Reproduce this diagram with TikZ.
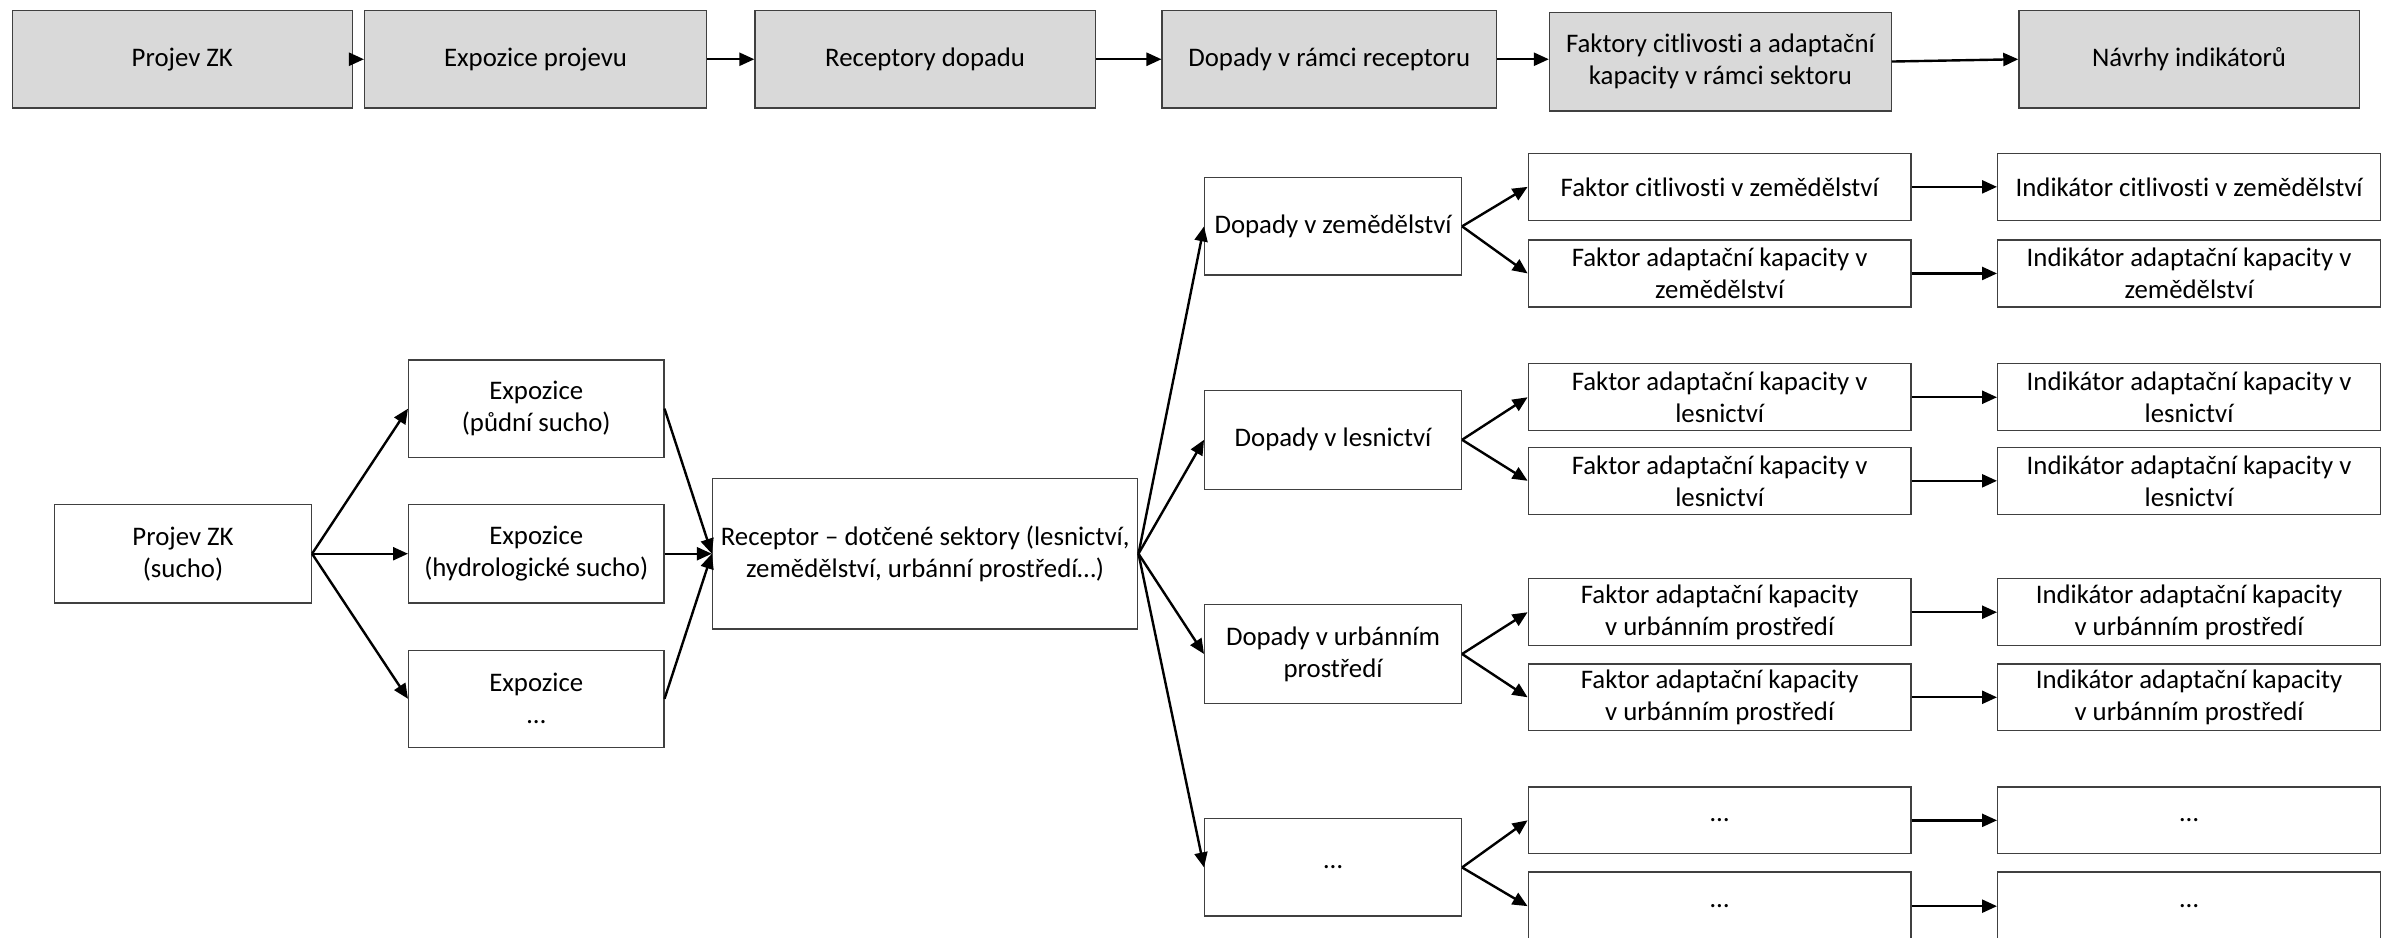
\documentclass[tikz,border=0pt]{standalone}
\usepackage{fontspec}
\setmainfont{Carlito}[Ligatures=NoCommon]
\usetikzlibrary{arrows.meta}
\begin{document}
\begin{tikzpicture}[x=1.5191pt,y=-1.5191pt,
  base/.style={draw=black!75, line width=1.3pt, inner sep=0pt, align=center,
    font=\fontsize{26.8}{32}\selectfont, text=black},
  wd/.style={minimum width=#1*1.5191pt},
  ht/.style={minimum height=#1*1.5191pt},
  topbox/.style={base, fill=gray!30, ht=64},
  wbox/.style={base, fill=white},
  conn/.style={-{Triangle[length=15pt,width=13pt]}, line width=2.4pt, black},
]
\useasboundingbox (0,0) rectangle (1568,617);

% top row
\node[topbox, wd=224] (t1) at (120,39) {Projev ZK};
\node[topbox, wd=225] (t2) at (352.5,39) {Expozice projevu};
\node[topbox, wd=224] (t3) at (609,39) {Receptory dopadu};
\node[topbox, wd=220] (t4) at (875,39) {Dopady v rámci receptoru};
\node[topbox, wd=225, ht=65] (t5) at (1132.5,40.5) {Faktory citlivosti a adaptační\\kapacity v rámci sektoru};
\node[topbox, wd=224] (t6) at (1441,39) {Návrhy indikátorů};

\draw[conn] (t1) -- (t2);
\draw[conn] (t2) -- (t3);
\draw[conn] (t3) -- (t4);
\draw[conn] (t4.east) -- (t5.west |- t4.east);
\draw[conn] (t5.east) -- (t6.west);

% left part
\node[wbox, wd=169, ht=65] (p) at (120.5,364.5) {Projev ZK\\(sucho)};
\node[wbox, wd=168, ht=64] (e1) at (353,269) {Expozice\\(půdní sucho)};
\node[wbox, wd=168, ht=65] (e2) at (353,364.5) {Expozice\\(hydrologické sucho)};
\node[wbox, wd=168, ht=64] (e3) at (353,460) {Expozice\\…};
\node[wbox, wd=280, ht=99] (r) at (609,364.5) {Receptor – dotčené sektory (lesnictví,\\zemědělství, urbánní prostředí…)};

\draw[conn] (p.east) -- (e1.west);
\draw[conn] (p.east) -- (e2.west);
\draw[conn] (p.east) -- (e3.west);
\draw[conn] (e1.east) -- (r.west);
\draw[conn] (e2.east) -- (r.west);
\draw[conn] (e3.east) -- (r.west);

% impacts
\node[wbox, wd=169, ht=64] (d1) at (877.5,149) {Dopady v zemědělství};
\node[wbox, wd=169, ht=65] (d2) at (877.5,289.5) {Dopady v lesnictví};
\node[wbox, wd=169, ht=65] (d3) at (877.5,430.5) {Dopady v urbánním\\prostředí};
\node[wbox, wd=169, ht=64] (d4) at (877.5,571) {…};

\foreach \d in {d1,d2,d3,d4} \draw[conn] (r.east) -- (\d.west);

% factors
\node[wbox, wd=252, ht=44] (f1a) at (1132,123) {Faktor citlivosti v zemědělství};
\node[wbox, wd=252, ht=44] (f1b) at (1132,180) {Faktor adaptační kapacity v\\zemědělství};
\node[wbox, wd=252, ht=44] (f2a) at (1132,261.5) {Faktor adaptační kapacity v\\lesnictví};
\node[wbox, wd=252, ht=44] (f2b) at (1132,316.5) {Faktor adaptační kapacity v\\lesnictví};
\node[wbox, wd=252, ht=44] (f3a) at (1132,403) {Faktor adaptační kapacity\\v urbánním prostředí};
\node[wbox, wd=252, ht=44] (f3b) at (1132,459) {Faktor adaptační kapacity\\v urbánním prostředí};
\node[wbox, wd=252, ht=44] (f4a) at (1132,540) {…};
\node[wbox, wd=252, ht=45] (f4b) at (1132,596.5) {…};

% indicators
\node[wbox, wd=252, ht=44] (i1a) at (1441,123) {Indikátor citlivosti v zemědělství};
\node[wbox, wd=252, ht=44] (i1b) at (1441,180) {Indikátor adaptační kapacity v\\zemědělství};
\node[wbox, wd=252, ht=44] (i2a) at (1441,261.5) {Indikátor adaptační kapacity v\\lesnictví};
\node[wbox, wd=252, ht=44] (i2b) at (1441,316.5) {Indikátor adaptační kapacity v\\lesnictví};
\node[wbox, wd=252, ht=44] (i3a) at (1441,403) {Indikátor adaptační kapacity\\v urbánním prostředí};
\node[wbox, wd=252, ht=44] (i3b) at (1441,459) {Indikátor adaptační kapacity\\v urbánním prostředí};
\node[wbox, wd=252, ht=44] (i4a) at (1441,540) {…};
\node[wbox, wd=252, ht=45] (i4b) at (1441,596.5) {…};

\foreach \k in {1,2,3,4} {
  \draw[conn] (d\k.east) -- (f\k a.west);
  \draw[conn] (d\k.east) -- (f\k b.west);
  \draw[conn] (f\k a.east) -- (i\k a.west);
  \draw[conn] (f\k b.east) -- (i\k b.west);
}
\end{tikzpicture}
\end{document}
